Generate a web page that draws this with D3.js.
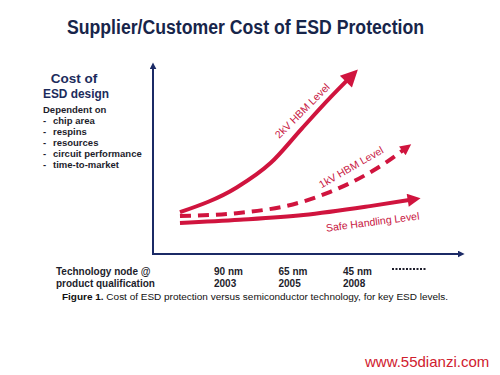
<!DOCTYPE html>
<html>
<head>
<meta charset="utf-8">
<script src="https://d3js.org/d3.v7.min.js"></script>
<style>
body{margin:0;background:#fff;}
svg{display:block;font-family:"Liberation Sans",Arial,sans-serif;}
.t_title{font-size:20px;font-weight:bold;fill:#17254a;}
.t_cost{font-size:13.5px;font-weight:bold;fill:#1c2b5c;text-anchor:middle;}
.t_dep{font-size:9.5px;font-weight:bold;fill:#1d1d2b;}
.t_node{font-size:10px;font-weight:bold;fill:#1d1d2b;}
.t_lab{font-size:10.5px;fill:#c8163f;}
.t_cap{font-size:9.6px;fill:#111;}
.t_mark{font-size:15px;fill:#d0202e;}
</style>
</head>
<body>
<svg width="500" height="375"></svg>
<script>

/* ----------------------------------------------------------
data
---------------------------------------------------------- */

var seriesNames = ["2kV HBM Level","1kV HBM Level","Safe Handling Level"];
// curve points (x = technology progress, y = cost), 0-100
var curve2kV = [[8.7,22],[27,35],[38,48],[48,66],[57,82],[63,92]];
var curve1kV = [[8.7,20],[27,21.5],[48,27.4],[57,32.6],[69,42],[75,48],[81,55]];
var curveSafe = [[8.7,16.3],[28,18],[48.5,20.5],[70,25.2],[83,28.5]];
var nodeNames = ["90 nm","65 nm","45 nm"];
var nodeYears = ["2003","2005","2008"];
var costFactors = ["chip area","respins","resources","circuit performance","time-to-market"];

/* ----------------------------------------------------------
setting
---------------------------------------------------------- */

var svg = d3.select("svg");
var red = "#d0143e";
var navy = "#1b2a66";

var x = d3.scaleLinear().domain([0,100]).range([153,463]);
var y = d3.scaleLinear().domain([0,100]).range([254,64]);
var nodeX = d3.scalePoint().domain(nodeNames).range([214,343]);

// arrow heads
var defs = svg.append("defs");
function head(id,w,h,col){
	defs.append("marker").attr("id",id)
		.attr("viewBox","0 0 10 10").attr("refX",2).attr("refY",5)
		.attr("markerUnits","userSpaceOnUse")
		.attr("markerWidth",w).attr("markerHeight",h)
		.attr("orient","auto")
		.append("path").attr("d","M0,0L10,5L0,10z").style("fill",col);
}
head("hBig",20,17,red);
head("hMid",13,11,red);
head("hSafe",16,13,red);
head("hAxis",7,7,navy);

//axis
svg.append("line").attr("x1",x(0)).attr("y1",y(0)).attr("x2",x(0)).attr("y2",y(100)+4)
	.style("stroke",navy).style("stroke-width",2).attr("marker-end","url(#hAxis)");
svg.append("line").attr("x1",x(0)-1).attr("y1",y(0)).attr("x2",x(100)-4).attr("y2",y(0))
	.style("stroke",navy).style("stroke-width",2).attr("marker-end","url(#hAxis)");

//path
var line = d3.line()
	.x(function(d){return x(d[0]);})
	.y(function(d){return y(d[1]);})
	.curve(d3.curveMonotoneX);

svg.append("path").attr("d",line(curve2kV))
	.style("fill","none").style("stroke",red).style("stroke-width",4)
	.attr("marker-end","url(#hBig)");
svg.append("path").attr("d",line(curve1kV))
	.style("fill","none").style("stroke",red).style("stroke-width",4)
	.style("stroke-dasharray","11,7")
	.attr("marker-end","url(#hMid)");
svg.append("path").attr("d",line(curveSafe))
	.style("fill","none").style("stroke",red).style("stroke-width",4)
	.attr("marker-end","url(#hSafe)");

//curve labels
var labelPos = [[49,74,-45],[64.5,44,-30],[71,15,-7.5]];
seriesNames.forEach(function(s,i){
	var p = labelPos[i];
	svg.append("text").attr("class","t_lab")
		.attr("transform","translate("+x(p[0])+","+y(p[1])+") rotate("+p[2]+")")
		.style("text-anchor","middle").text(s);
});

/* ----------------------------------------------------------
text
---------------------------------------------------------- */

svg.append("text").attr("x",67).attr("y",34).attr("class","t_title")
	.attr("textLength",357).attr("lengthAdjust","spacingAndGlyphs")
	.text("Supplier/Customer Cost of ESD Protection");

svg.append("text").attr("x",74).attr("y",83).attr("class","t_cost").text("Cost of");
svg.append("text").attr("x",76).attr("y",98).attr("class","t_cost")
	.attr("textLength",66).attr("lengthAdjust","spacingAndGlyphs").text("ESD design");
svg.append("text").attr("x",43).attr("y",113).attr("class","t_dep").text("Dependent on");

var gDep = svg.append("g").attr("transform","translate(43,124)");
costFactors.forEach(function(c,i){
	gDep.append("text").attr("y",i*11).attr("class","t_dep").text("-");
	gDep.append("text").attr("x",10).attr("y",i*11).attr("class","t_dep").text(c);
});

svg.append("text").attr("x",56).attr("y",275).attr("class","t_node").text("Technology node @");
svg.append("text").attr("x",56).attr("y",287).attr("class","t_node").text("product qualification");
nodeNames.forEach(function(n,i){
	svg.append("text").attr("x",nodeX(n)).attr("y",275).attr("class","t_node").text(n);
	svg.append("text").attr("x",nodeX(n)).attr("y",287).attr("class","t_node").text(nodeYears[i]);
});
svg.append("line").attr("x1",392).attr("y1",269).attr("x2",426).attr("y2",269)
	.style("stroke","#1d1d2b").style("stroke-width",2).style("stroke-dasharray","2,1.5");

svg.append("text").attr("x",62).attr("y",300).attr("class","t_cap")
	.attr("textLength",386).attr("lengthAdjust","spacingAndGlyphs")
	.html("<tspan style='font-weight:bold'>Figure 1.</tspan>  Cost of ESD protection versus semiconductor technology, for key ESD levels.");

svg.append("text").attr("x",365).attr("y",367).attr("class","t_mark").text("www.55dianzi.com");

</script>
</body>
</html>
